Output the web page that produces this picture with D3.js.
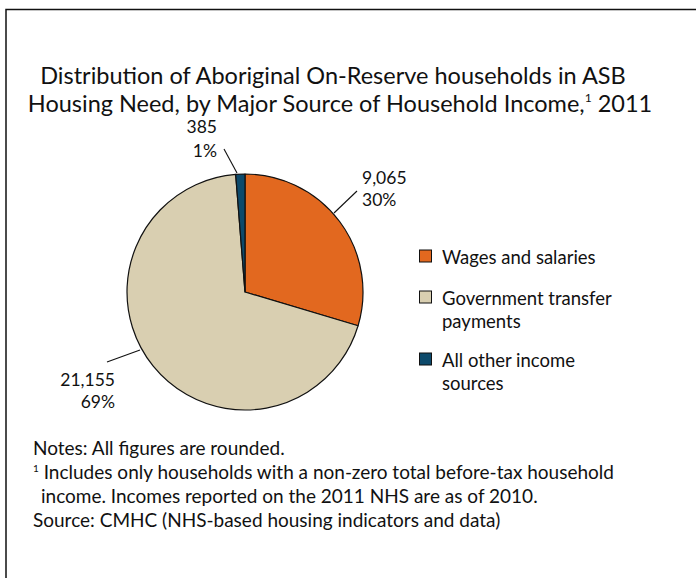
<!DOCTYPE html>
<html><head><meta charset="utf-8">
<script src="https://cdn.jsdelivr.net/npm/d3@7"></script>
<style>
html,body{margin:0;padding:0;background:#fff;}
text{font-family:Lato,"Open Sans",sans-serif;fill:#111;}
</style></head>
<body>
<svg id="chart" width="696" height="578"></svg>
<script>
const categories = ["Wages and salaries", "Government transfer payments", "All other income sources"];
const values = [9065, 21155, 385];
const percentLabels = ["30%", "69%", "1%"];
const valueLabels = ["9,065", "21,155", "385"];
const colors = ["#E2681F", "#D9CFB1", "#0D4A6B"];
const legendLines = [["Wages and salaries"], ["Government transfer", "payments"], ["All other income", "sources"]];
const titleLines = ["Distribution of Aboriginal On-Reserve households in ASB", "Housing Need, by Major Source of Household Income,"];
const noteLines = ["Notes: All figures are rounded.", "Includes only households with a non-zero total before-tax household", "income. Incomes reported on the 2011 NHS are as of 2010.", "Source: CMHC (NHS-based housing indicators and data)"];

const svg = d3.select("#chart");
// frame
svg.append("path").attr("d","M6,700 L6,9.5 L700,9.5").attr("fill","none").attr("stroke","#111").attr("stroke-width",1.5);

// title
svg.append("text").attr("x", 333).attr("y", 84).attr("text-anchor","middle").attr("font-size", 23.5).text(titleLines[0]);
const t2 = svg.append("text").attr("x", 340).attr("y", 112).attr("text-anchor","middle").attr("font-size", 23.5);
t2.append("tspan").text(titleLines[1]);
t2.append("tspan").attr("font-size", 12).attr("dy", -10).text("1");
t2.append("tspan").attr("dy", 10).text(" 2011");

// pie
const cx = 245, cy = 292, r = 118;
const pie = d3.pie().sort(null).value(d => d)(values);
const arc = d3.arc().innerRadius(0).outerRadius(r);
const g = svg.append("g").attr("transform", `translate(${cx},${cy})`);
g.selectAll("path").data(pie).join("path")
  .attr("d", arc).attr("fill", (d,i) => colors[i])
  .attr("stroke", "#111").attr("stroke-width", 1.2).attr("stroke-linejoin","round");

// labels with leader lines
const labelPos = [
  {anchor:"start", x: 362, y: 184, dy: 22, line:[[334,213],[357,191]]},
  {anchor:"end", x: 115, y: 386, dy: 22, line:[[140,350],[107,362]]},
  {anchor:"end", x: 217, y: 133, dy: 24, line:[[237,173],[224,149]]}
];
pie.forEach((d,i) => {
  const p = labelPos[i];
  svg.append("line").attr("x1",p.line[0][0]).attr("y1",p.line[0][1]).attr("x2",p.line[1][0]).attr("y2",p.line[1][1])
    .attr("stroke","#111").attr("stroke-width",1.1);
  const tx = svg.append("text").attr("x",p.x).attr("y",p.y).attr("text-anchor",p.anchor).attr("font-size",17.5);
  tx.append("tspan").attr("x",p.x).text(valueLabels[i]);
  tx.append("tspan").attr("x",p.x).attr("dy",p.dy).text(percentLabels[i]);
});

// legend
const legY = [264, 305, 367];
categories.forEach((c,i) => {
  svg.append("rect").attr("x",419.5).attr("y",legY[i]-14).attr("width",12).attr("height",12)
    .attr("fill",colors[i]).attr("stroke","#111").attr("stroke-width",1);
  const lt = svg.append("text").attr("x",442).attr("y",legY[i]).attr("font-size",18.5);
  legendLines[i].forEach((l,j) => lt.append("tspan").attr("x",442).attr("dy", j===0?0:23).text(l));
});

// notes
const nx = 33, nfs = 19;
svg.append("text").attr("x",nx).attr("y",455).attr("font-size",nfs).text(noteLines[0]);
const n2 = svg.append("text").attr("x",nx).attr("y",479).attr("font-size",nfs);
n2.append("tspan").attr("font-size",10).attr("dy",-7).text("1");
n2.append("tspan").attr("dy",7).text(" " + noteLines[1]);
svg.append("text").attr("x",nx+8).attr("y",503).attr("font-size",nfs).text(noteLines[2]);
svg.append("text").attr("x",nx).attr("y",527).attr("font-size",nfs).text(noteLines[3]);
</script>
</body></html>
